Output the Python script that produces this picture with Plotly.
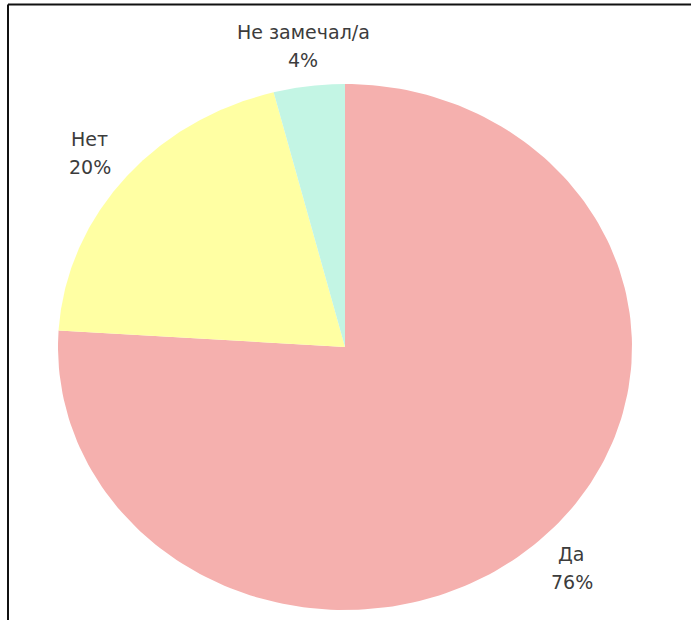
import numpy as np
import plotly.graph_objects as go

# Survey answers and their shares (percent)
labels = ["Да", "Нет", "Не замечал/а"]
values = [76, 20, 4]
colors = ["#F5B0AE", "#FFFFA3", "#C3F5E4"]

W, H = 691, 620
# pie centre and radii in pixels (slightly elliptical pie)
cx, cy = 345, 347
rx, ry = 287, 263

fig = go.Figure()

label_font = dict(family="DejaVu Sans, Open Sans, sans-serif", size=19, color="#3c3c3c")

total = sum(values)
start = 0.0  # degrees clockwise from 12 o'clock
for lab, val, col in zip(labels, values, colors):
    sweep = 360.0 * val / total
    ang = np.radians(np.linspace(start, start + sweep, 200))
    xs = np.concatenate([[0.0], np.sin(ang), [0.0]])
    ys = np.concatenate([[0.0], np.cos(ang), [0.0]])
    fig.add_trace(go.Scatter(
        x=xs, y=ys, mode="lines", fill="toself", fillcolor=col,
        line=dict(width=0, color=col), hoverinfo="text",
        text=f"{lab}: {val}%", showlegend=False,
    ))
    mid = np.radians(start + sweep / 2)
    r = 1.155
    lx, ly = r * np.sin(mid), r * np.cos(mid)
    # category name above, percentage below
    for txt, shift in ((lab, 14), (f"{val}%", -14)):
        fig.add_annotation(
            x=lx, y=ly, yshift=shift, text=txt, showarrow=False,
            font=label_font, xanchor="center", yanchor="middle",
        )
    start += sweep

fig.update_xaxes(range=[-cx / rx, (W - cx) / rx], visible=False, fixedrange=True)
fig.update_yaxes(range=[-(H - cy) / ry, cy / ry], visible=False, fixedrange=True)

# frame lines on the top and left edges
fig.add_shape(type="line", xref="paper", yref="paper",
              x0=8 / W, x1=1, y0=1 - 4.5 / H, y1=1 - 4.5 / H,
              line=dict(color="#111111", width=2))
fig.add_shape(type="line", xref="paper", yref="paper",
              x0=8 / W, x1=8 / W, y0=0, y1=1 - 4.5 / H,
              line=dict(color="#111111", width=2))

fig.update_layout(
    width=W, height=H,
    margin=dict(l=0, r=0, t=0, b=0),
    paper_bgcolor="white", plot_bgcolor="white",
    showlegend=False,
)

fig.write_html("out.html")
